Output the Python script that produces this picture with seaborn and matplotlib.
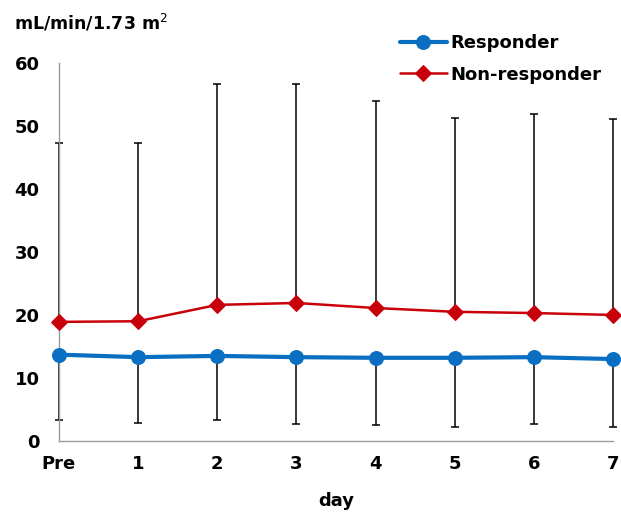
import matplotlib
matplotlib.use("Agg")
import matplotlib.pyplot as plt
import seaborn as sns
import pandas as pd
import numpy as np

days = ["Pre", "1", "2", "3", "4", "5", "6", "7"]
responder = [13.7, 13.3, 13.5, 13.3, 13.2, 13.2, 13.3, 13.0]
responder_sd = [10.4, 10.4, 10.2, 10.6, 10.7, 11.0, 10.6, 10.8]
nonresponder = [18.9, 19.0, 21.6, 21.9, 21.1, 20.5, 20.3, 20.0]
nonresponder_sd = [28.4, 28.3, 35.1, 34.8, 32.9, 30.8, 31.6, 31.1]
yticks = [0, 10, 20, 30, 40, 50, 60]

sns.set_theme(style="white")
plt.rcParams['font.family'] = ['DejaVu Sans']
plt.rcParams['text.color'] = 'black'
plt.rcParams['xtick.labelcolor'] = 'black'
plt.rcParams['ytick.labelcolor'] = 'black'
plt.rcParams['axes.labelcolor'] = 'black'

blue = "#0A6FC2"
red = "#C8000A"

fig = plt.figure(figsize=(6.21, 5.20), dpi=100)
ax = fig.add_axes([0.095, 0.152, 0.892, 0.727])

pos = np.arange(len(days))
df_r = pd.DataFrame({"x": pos, "y": responder})
df_n = pd.DataFrame({"x": pos, "y": nonresponder})

# one-sided error bars
ax.errorbar(pos, nonresponder, yerr=[np.zeros(len(pos)), nonresponder_sd],
            fmt="none", ecolor="black", elinewidth=1.1, capsize=3, capthick=1.1,
            zorder=1, clip_on=False)
ax.errorbar(pos, responder, yerr=[responder_sd, np.zeros(len(pos))],
            fmt="none", ecolor="black", elinewidth=1.1, capsize=3, capthick=1.1,
            zorder=1, clip_on=False)

sns.lineplot(data=df_r, x="x", y="y", ax=ax, color=blue, linewidth=3.0,
             marker="o", markersize=10, markeredgecolor=blue,
             label="Responder", zorder=3, clip_on=False)
sns.lineplot(data=df_n, x="x", y="y", ax=ax, color=red, linewidth=1.8,
             marker="D", markersize=8, markeredgecolor=red,
             label="Non-responder", zorder=3, clip_on=False)

ax.set_xlim(0, len(days) - 1)
ax.set_ylim(0, 60)
ax.set_xticks(pos)
ax.set_xticklabels(days)
ax.set_yticks(yticks)
ax.set_xlabel("day", fontsize=13, fontweight="bold", labelpad=14, color="black")
ax.set_ylabel("")

for s in ["top", "right"]:
    ax.spines[s].set_visible(False)
for s in ["left", "bottom"]:
    ax.spines[s].set_color("#9a9a9a")
    ax.spines[s].set_linewidth(1.0)

ax.tick_params(axis="both", which="major", labelsize=13, length=4,
               color="#9a9a9a", width=1, direction="out", pad=6,
               labelcolor="black")
ax.tick_params(axis="y", length=0, pad=14)
for lbl in ax.get_xticklabels() + ax.get_yticklabels():
    lbl.set_fontweight("bold")

fig.text(0.022, 0.955, "mL/min/1.73 m$^{2}$", fontsize=12.5, fontweight="bold",
         va="center", ha="left", color="black")

leg = ax.legend(loc="upper left", bbox_to_anchor=(0.615, 1.076), frameon=False,
                fontsize=13, handlelength=2.6, handletextpad=0.2,
                labelspacing=0.75, borderaxespad=0, borderpad=0)
for t in leg.get_texts():
    t.set_fontweight("bold")
    t.set_color("black")

fig.savefig("out.png", dpi=100)
